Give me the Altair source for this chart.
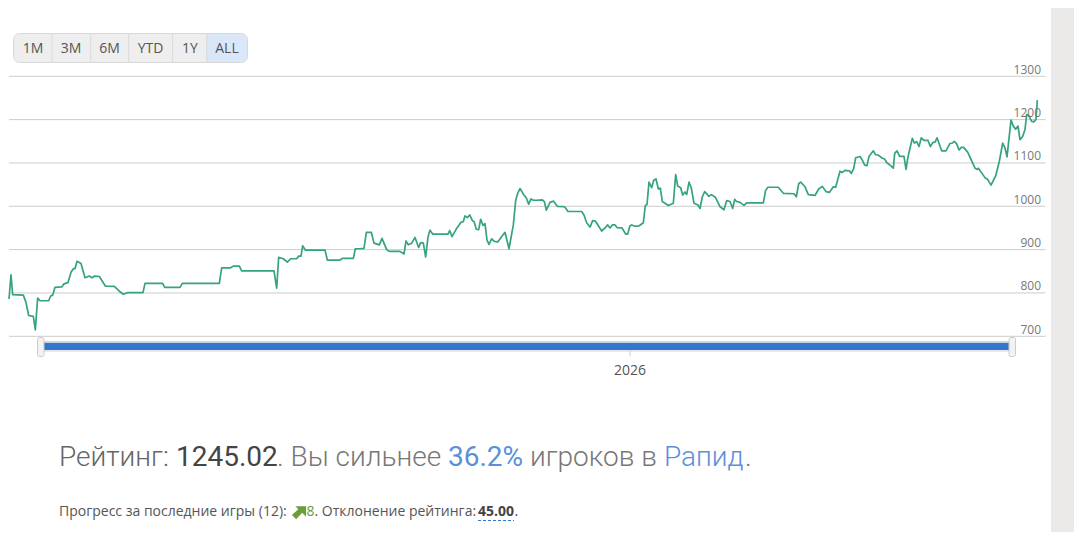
import altair as alt
import pandas as pd

games_a = [27,33,38,70,78,86,100,106,113,120,146,152,158,165,185,192,204,213,220,225,231,243,255,268,276,284,298,316,343,358,370,384,429,435,488,494,540,547,658,665,692,700,718,725,822,830,836,850,862,872,890,896,903,908,916,975,982,1020,1028,1060,1066,1080]
rating_a = [786,842,796,795,778,748,746,715,788,782,782,793,795,813,814,821,824,848,856,856,873,868,835,839,835,839,838,816,815,804,797,801,801,822,822,813,813,822,822,858,858,862,862,851,851,811,882,879,871,879,879,885,885,909,899,899,876,876,880,880,902,902]

games_b = [1080,1092,1099,1114,1122,1138,1146,1160,1168,1200,1212,1218,1225,1235,1245,1256,1262,1270,1277,1284,1290,1298,1344,1349,1356,1370,1383,1390,1395,1402,1409,1418,1422,1429,1436,1442,1449,1455,1461,1467,1475,1483,1494,1504,1515,1527,1540,1547,1553,1560,1570,1579,1586,1593,1600,1610,1627,1633,1639,1650,1660,1672,1694,1704,1745,1752,1760,1770,1778,1786,1805,1815,1823,1830,1837,1845,1851,1866,1877,1883,1890,1895,1905,1918,1930,1936,1941,1947,1955,1961,1968,1975,1981,1987,2005,2020,2027,2033,2042,2048,2055,2060,2067,2074,2082,2094,2100,2107,2114,2127,2134,2146,2160]
rating_b = [903,903,940,940,915,911,926,900,896,896,890,920,911,915,928,905,916,915,883,929,945,936,936,944,930,949,963,965,978,974,980,966,965,947,946,970,956,960,922,912,925,919,918,929,940,902,957,1013,1030,1041,1028,1019,1005,1017,1014,1014,1015,1011,991,1009,1012,1000,999,988,988,980,962,952,967,966,943,950,957,950,957,957,951,950,936,936,955,957,954,955,962,1002,1004,1056,1043,1060,1063,1040,1042,1011,1002,1007,1073,1047,1043,1026,1033,1027,1056,1042,1007,1003,995,1022,1034,1023,1027,1021,999]

games_c = [2160,2172,2180,2190,2198,2204,2210,2220,2232,2240,2290,2297,2304,2335,2350,2382,2389,2396,2402,2415,2425,2445,2456,2467,2478,2488,2500,2507,2520,2526,2535,2548,2554,2561,2567,2580,2588,2594,2601,2607,2620,2627,2635,2647,2654,2660,2670,2680,2684,2691,2699,2712,2718,2724,2737,2743,2750,2757,2764,2772,2784,2791,2798,2805,2811,2825,2838,2850,2857,2863,2870,2877,2884,2891,2903,2925,2932,2935,2946,2956,2962,2973,2987,2998,3008,3015,3021,3033,3040,3047,3054,3060,3068,3075,3080,3087,3095,3102,3108,3112]
rating_c = [1000,992,1013,1011,995,1016,1011,1009,1002,1008,1008,1037,1044,1044,1030,1029,1022,1052,1056,1045,1027,1025,1040,1046,1034,1032,1045,1044,1081,1078,1083,1082,1076,1087,1112,1115,1105,1095,1094,1115,1128,1119,1118,1111,1109,1101,1095,1088,1122,1128,1115,1115,1085,1114,1157,1146,1149,1138,1158,1152,1152,1138,1147,1148,1158,1128,1128,1145,1146,1150,1144,1130,1136,1136,1125,1088,1085,1088,1076,1065,1063,1049,1070,1104,1146,1135,1114,1199,1185,1178,1185,1154,1161,1177,1212,1208,1196,1195,1201,1245]

grid_values = [700, 800, 900, 1000, 1100, 1200, 1300]
year_tick = [1890]
year_label = ["2026"]
buttons = ["1M", "3M", "6M", "YTD", "1Y", "ALL"]
button_centers = [33, 71, 109.5, 150.5, 190, 227]
button_dividers = [51.7, 90.3, 128.3, 172.3, 206.3]

assert len(games_a) == len(rating_a), (len(games_a), len(rating_a))
assert len(games_b) == len(rating_b), (len(games_b), len(rating_b))
assert len(games_c) == len(rating_c), (len(games_c), len(rating_c))

games = games_a + games_b[1:] + games_c[1:]
ratings = rating_a + rating_b[1:] + rating_c[1:]
df = pd.DataFrame({"game": games, "rating": ratings})

O = 8
xs = alt.Scale(domain=[0, 3120], range=[-8, 1032])
ys = alt.Scale(domain=[700, 1300], range=[328.3, 68.3])
W, H = 1066, 524
FONT = "Open Sans"


def rect(x0, x1, y0, y1, fill, **kw):
    return alt.Chart().mark_rect(fill=fill, **kw).encode(
        x=alt.value(x0 - O), x2=alt.value(x1 - O), y=alt.value(y0 - O), y2=alt.value(y1 - O))


def label(s, x, y, size, color, font=FONT, weight=400, align="left"):
    return alt.Chart().mark_text(font=font, fontSize=size, color=color, fontWeight=weight,
                                 align=align, baseline="alphabetic").encode(
        text=alt.value(s), x=alt.value(x - O), y=alt.value(y - O))


layers = [rect(1051, 1074, 0, 560, "#ebeae8")]

grid_df = pd.DataFrame({"v": grid_values})
layers.append(alt.Chart(grid_df).mark_rule(color="#cccccc", strokeWidth=1).encode(
    y=alt.Y("v:Q", scale=ys, axis=None), x=alt.value(9 - O), x2=alt.value(1045.5 - O)))

# navigator
layers.append(rect(44, 1009, 341.5, 351, "#f4f4f4", stroke="#d4d4d4", strokeWidth=1))
layers.append(rect(44, 1009, 342.7, 350, "#3377cc"))
layers.append(rect(37.5, 44, 337.5, 356.5, "#f2f2f2", stroke="#cccccc", strokeWidth=1, cornerRadius=2))
layers.append(rect(1009, 1015.5, 337.5, 356.5, "#f2f2f2", stroke="#cccccc", strokeWidth=1, cornerRadius=2))

tick_df = pd.DataFrame({"g": year_tick, "t": year_label})
layers.append(alt.Chart(tick_df).mark_rule(color="#cccccc", strokeWidth=1).encode(
    x=alt.X("g:Q", scale=xs, axis=None), y=alt.value(351 - O), y2=alt.value(356 - O)))
layers.append(alt.Chart(tick_df).mark_text(font=FONT, fontSize=14, color="#555555", baseline="alphabetic").encode(
    x=alt.X("g:Q", scale=xs, axis=None), y=alt.value(375 - O), text="t:N"))

# rating line
layers.append(alt.Chart(df).mark_line(color="#35a280", strokeWidth=1.7, strokeJoin="round").encode(
    x=alt.X("game:Q", scale=xs, axis=None), y=alt.Y("rating:Q", scale=ys, axis=None)))

# y labels
layers.append(alt.Chart(grid_df).mark_text(font=FONT, fontSize=12, color="#777777", align="right",
                                            baseline="alphabetic", dy=-2.5).encode(
    y=alt.Y("v:Q", scale=ys, axis=None), x=alt.value(1041 - O), text=alt.Text("v:Q", format="d")))

# range buttons
layers.append(rect(13.5, 247.5, 33.5, 62.5, "#eeeeee", stroke="#d8d8d8", strokeWidth=1, cornerRadius=6))
layers.append(rect(206.5, 247, 34, 62, "#d9e7f9", cornerRadiusTopRight=6, cornerRadiusBottomRight=6))
for d in button_dividers:
    layers.append(rect(d, d + 0.8, 34, 62, "#d8d8d8"))
for b, c in zip(buttons, button_centers):
    layers.append(label(b, c, 53, 14, "#555555", align="center"))

# headline
R = "Roboto"
layers += [
    label("Рейтинг:", 59, 466, 28, "#666666", R, 300),
    label("1245.02", 176, 466, 28, "#444444", R, 400),
    label(". Вы сильнее", 277, 466, 28, "#777777", R, 300),
    label("36.2%", 448, 466, 28, "#5b90d9", R, 400),
    label("игроков в", 530, 466, 28, "#777777", R, 300),
    label("Рапид", 664, 466, 28, "#5b90d9", R, 300),
    label(".", 745, 466, 28, "#777777", R, 300),
]

# second line
layers += [
    label("Прогресс за последние игры (12):", 59, 516, 14, "#555555"),
    label("8", 306.5, 516, 14, "#6a9a3a"),
    label(". Отклонение рейтинга:", 314.5, 516, 14, "#555555"),
    label("45.00", 478, 516, 14, "#444444", FONT, 700),
    label(".", 514.5, 516, 14, "#444444"),
]
arrow = "M1,-0.9 L1,0.6 L0.45,0.05 L-0.4,0.95 L-1,0.35 L-0.1,-0.45 L-0.5,-0.9 Z"
layers.append(alt.Chart().mark_point(shape=arrow, filled=True, fill="#6d9c3a", opacity=1, size=200, strokeWidth=0).encode(
    x=alt.value(299 - O), y=alt.value(512.5 - O)))
layers.append(alt.Chart().mark_rule(color="#3377cc", strokeWidth=1, strokeDash=[3, 2]).encode(
    x=alt.value(478 - O), x2=alt.value(514 - O), y=alt.value(520.5 - O)))

chart = alt.layer(*layers).properties(width=W, height=H, padding=0, autosize="none").configure_view(strokeWidth=0)
chart.save("out.html", embed_options={"renderer": "svg", "actions": False})
